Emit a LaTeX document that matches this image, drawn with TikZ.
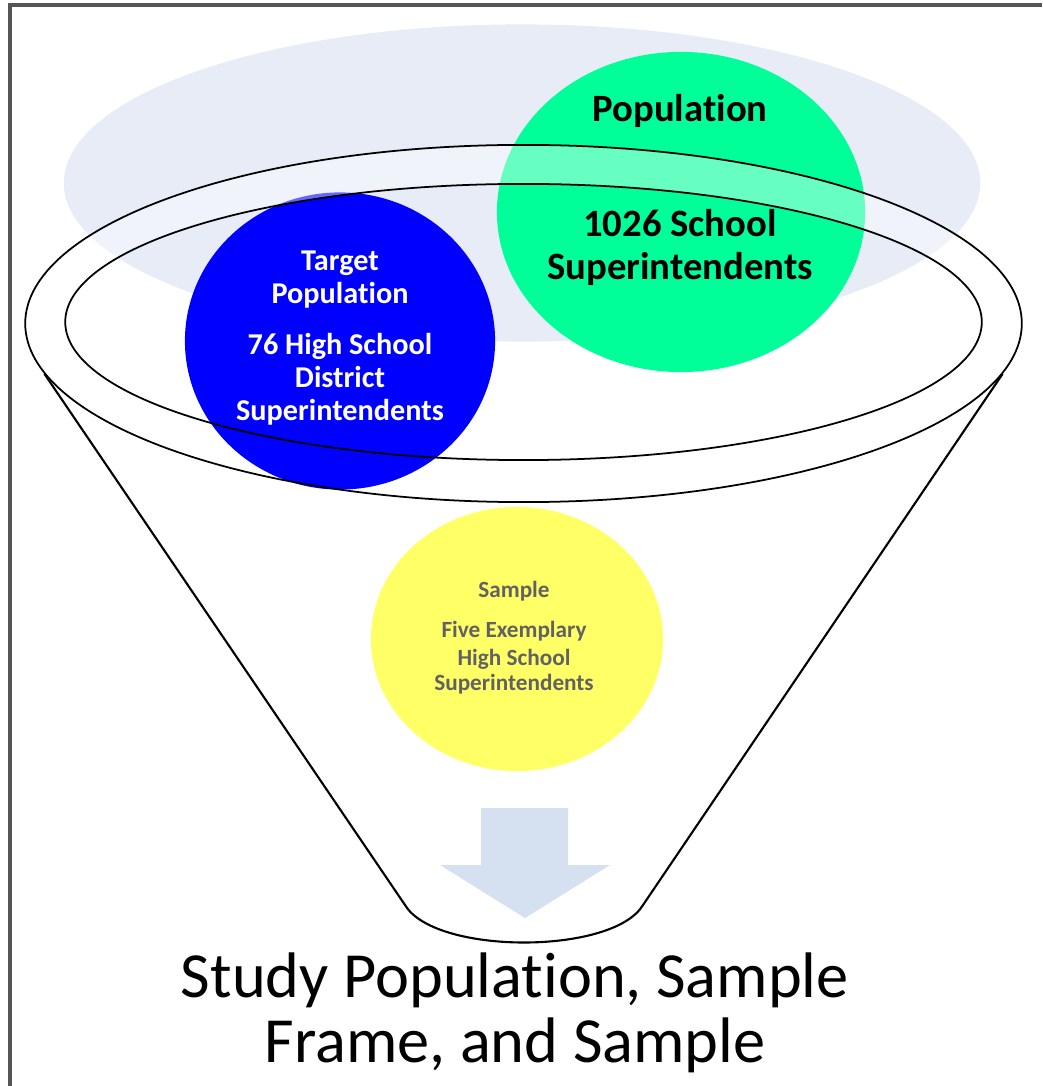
\documentclass[tikz,border=0pt]{standalone}
\usepackage{fontspec}
\setmainfont{Carlito}[Ligatures=NoCommon]
\usepackage{xcolor}
\usetikzlibrary{shapes.geometric, positioning, calc}

\definecolor{bgblue}{RGB}{231,236,246}
\definecolor{popgreen}{RGB}{0,255,153}
\definecolor{targetblue}{RGB}{0,0,255}
\definecolor{sampleyellow}{RGB}{255,255,102}
\definecolor{samplegray}{RGB}{98,98,98}
\definecolor{arrowblue}{RGB}{213,224,241}
\definecolor{framegray}{RGB}{85,85,85}

\begin{document}
\begin{tikzpicture}[x=0.01cm, y=-0.01cm,
    blob/.style={ellipse, draw=none, inner sep=0pt},
    rim/.style={ellipse, draw=black, line width=0.5pt, inner sep=0pt},
    popline/.style={font=\bfseries\fontsize{11}{12}\selectfont, anchor=base},
    targetline/.style={text=white, font=\bfseries\fontsize{8.6}{9}\selectfont, anchor=base},
    sampleline/.style={text=samplegray, font=\bfseries\fontsize{6.6}{7}\selectfont, anchor=base},
    titleline/.style={font=\fontsize{18.3}{20}\selectfont, anchor=base}]

    \useasboundingbox (0,0) rectangle (1042,1086);

    % ==========================================
    % BACKGROUND: cloud and frame
    % ==========================================
    \node[blob, fill=bgblue, minimum width=9.16cm, minimum height=3.17cm] (cloud) at (522,183) {};
    \draw[framegray, line width=1pt] (10,1086) -- (10,5) -- (1042,5);

    % ==========================================
    % CIRCLES: target, population, sample
    % ==========================================
    \node[blob, fill=targetblue, minimum width=3.10cm, minimum height=2.97cm] (target) at (340,341) {};
    \node[blob, fill=popgreen, minimum width=3.68cm, minimum height=3.20cm] (pop) at (681,212) {};
    \node[blob, fill=sampleyellow, minimum width=2.92cm, minimum height=2.64cm] (sample) at (517,639) {};

    % ==========================================
    % FUNNEL: back of the rim is see-through white, sides and neck
    % ==========================================
    \begin{scope}
        \clip (0,0) rectangle (1042,322);
        \fill[white, opacity=0.4, even odd rule]
            (523.5,323.5) ellipse [x radius=4.98cm, y radius=1.785cm]
            (523.5,322) ellipse [x radius=4.58cm, y radius=1.38cm];
    \end{scope}
    \node[rim, minimum width=9.96cm, minimum height=3.57cm] (rimout) at (523.5,323.5) {};
    \node[rim, minimum width=9.16cm, minimum height=2.76cm] (rimin) at (523.5,322) {};

    \coordinate (neckL) at (405,905);
    \coordinate (neckR) at (643,905);
    \draw[line width=0.6pt] (rimout.186) -- (neckL)
        .. controls (435,955) and (613,955) .. (neckR) -- (rimout.-6);

    % Down arrow inside the neck
    \fill[arrowblue] (481,808) -- (568,808) -- (568,865) -- (610,865)
        -- (525,918) -- (440,865) -- (481,865) -- cycle;

    % ==========================================
    % LABELS
    % ==========================================
    \node[popline] (popname) at (680,122) {Population};
    \node[popline] (popcount) at (680,237) {1026 School};
    \node[popline] (popwho) at (680,280) {Superintendents};

    \node[targetline] (tgtname1) at (340,271) {Target};
    \node[targetline] (tgtname2) at (340,304) {Population};
    \node[targetline] (tgtcount) at (340,355) {76 High School};
    \node[targetline] (tgtwho1) at (340,388) {District};
    \node[targetline] (tgtwho2) at (340,421) {Superintendents};

    \node[sampleline] (smpname) at (514,597) {Sample};
    \node[sampleline] (smpcount) at (514,637) {Five Exemplary};
    \node[sampleline] (smpwho1) at (514,665) {High School};
    \node[sampleline] (smpwho2) at (514,690) {Superintendents};

    \node[titleline] (title1) at (515,997) {Study Population, Sample};
    \node[titleline] (title2) at (515,1062) {Frame, and Sample};

\end{tikzpicture}
\end{document}
